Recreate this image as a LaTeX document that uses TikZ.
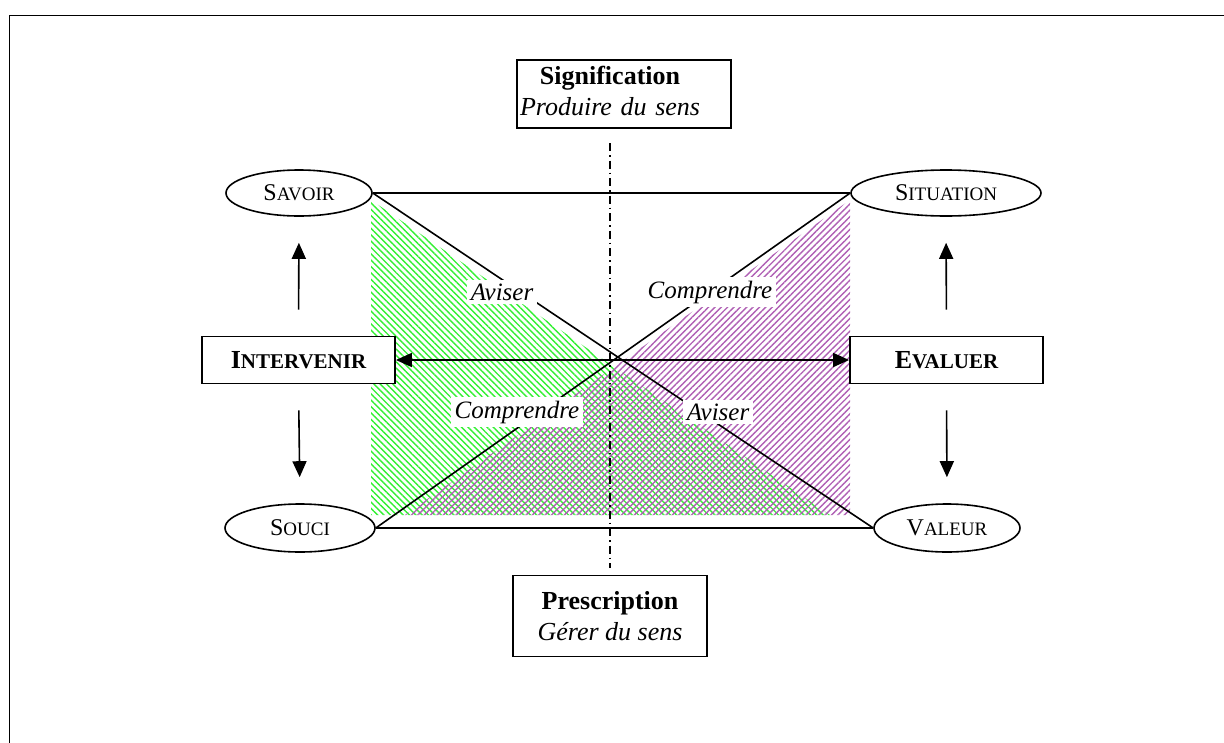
\documentclass[tikz,border=0pt]{standalone}
\usepackage{fontspec}
\setmainfont{Liberation Serif}
\usetikzlibrary{arrows.meta,shapes.geometric,patterns.meta}

\definecolor{hatchgreen}{RGB}{50,240,50}
\definecolor{hatchpurple}{RGB}{175,95,180}

\newcommand\boxsize{\fontsize{26}{31}\selectfont}
\newcommand\ellsize{\fontsize{24}{28}\selectfont}
\newcommand\lblsize{\fontsize{25}{30}\selectfont}
\newcommand\petitcap[1]{{\fontsize{19}{19}\selectfont #1}}
\newcommand\petitbcap[1]{{\fontsize{21}{21}\selectfont #1}}

\tikzset{
  pole/.style={draw, ellipse, line width=1.6pt, fill=white, inner sep=0pt, minimum height=46pt, font=\ellsize},
  action/.style={draw, rectangle, line width=1.8pt, fill=white, minimum width=193pt, minimum height=47pt, font=\boxsize\bfseries},
  sens/.style={draw, rectangle, line width=1.8pt, fill=white, align=center, font=\boxsize},
  verbe/.style={fill=white, inner sep=4pt, font=\lblsize\itshape},
  trait/.style={line width=1.6pt},
  fleche/.style={line width=1.6pt, -{Triangle[length=16pt,width=14pt]}, shorten <=26pt, shorten >=26pt},
}

\begin{document}
\begin{tikzpicture}[x=1pt,y=-1pt]
    \useasboundingbox (0,0) rectangle (1224,742);

    % page frame, only left and top edges show
    \draw[line width=1.8pt] (9.5,760) -- (9.5,15.5) -- (1240,15.5);

    % hatched triangles
    \fill[pattern={Lines[angle=-45,distance=4.5pt,line width=1.4pt]}, pattern color=hatchgreen]
        (371,200) -- (371,515) -- (830,515) -- cycle;
    \fill[pattern={Lines[angle=45,distance=4.5pt,line width=1.4pt]}, pattern color=hatchpurple]
        (850,200) -- (850,515) -- (405,515) -- cycle;

    % vertical axis
    \draw[line width=1.5pt, dash pattern=on 8pt off 4pt on 1.5pt off 4pt] (610,143) -- (610,568);

    % the two poles of meaning
    \node[sens, text width=208pt, inner xsep=3pt, align=left, minimum height=64pt] (signif) at (624,94)
        {\begin{tabular}{@{}c@{}}\textbf{Signification}\\ \textit{Produire du sens}\end{tabular}};
    \node[sens, minimum width=194pt, minimum height=81pt] (prescr) at (610,616)
        {\textbf{Prescription}\\ \textit{Gérer du sens}};

    % corners
    \node[pole, minimum width=146pt] (savoir) at (299,193) {S\petitcap{AVOIR}};
    \node[pole, minimum width=190pt] (situation) at (946,193) {S\petitcap{ITUATION}};
    \node[pole, minimum width=150pt, minimum height=48pt] (souci) at (300,528) {S\petitcap{OUCI}};
    \node[pole, minimum width=146pt, minimum height=48pt] (valeur) at (947,528) {V\petitcap{ALEUR}};

    % actions
    \node[action] (intervenir) at (298.5,360) {I\petitbcap{NTERVENIR}};
    \node[action] (evaluer) at (946.5,360) {E\petitbcap{VALUER}};

    % square and diagonals
    \draw[trait] (savoir.east) -- (situation.west);
    \draw[trait] (souci.east) -- (valeur.west);
    \draw[trait] (savoir.east) -- (valeur.west);
    \draw[trait] (situation.west) -- (souci.east);

    % arrows
    \draw[trait, {Triangle[length=16pt,width=14pt]}-{Triangle[length=16pt,width=14pt]}] (intervenir.east) -- (evaluer.west);
    \draw[fleche] (intervenir.north) -- (savoir.south);
    \draw[fleche] (intervenir.south) -- (souci.north);
    \draw[fleche] (evaluer.north) -- (situation.south);
    \draw[fleche] (evaluer.south) -- (valeur.north);

    % labels on the diagonals
    \node[verbe] (aviserA) at (502,292) {Aviser};
    \node[verbe] (comprA) at (710,292) {Comprendre};
    \node[verbe] (comprB) at (517,412) {Comprendre};
    \node[verbe] (aviserB) at (718,412) {Aviser};
\end{tikzpicture}
\end{document}
